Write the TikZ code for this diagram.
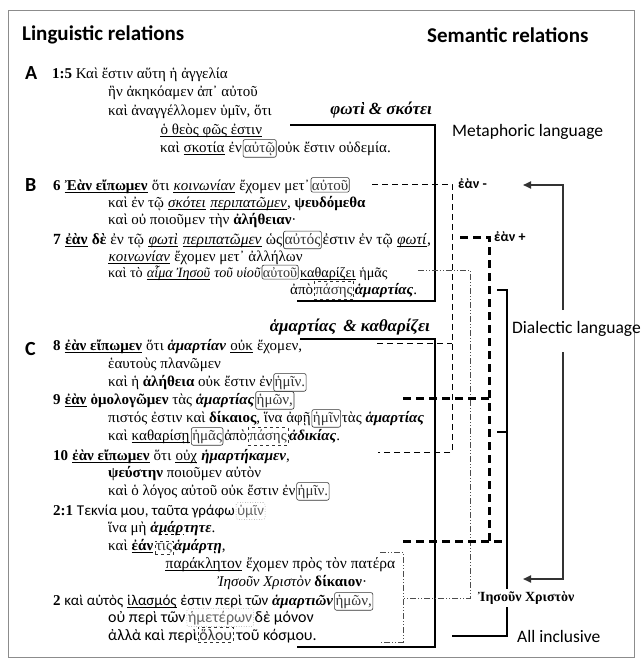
\documentclass[tikz,border=0pt]{standalone}
\usepackage{fontspec}
\setmainfont{Liberation Serif}
\newfontfamily\labfont{Carlito}
\newfontfamily\gsans{Carlito}
\usetikzlibrary{arrows.meta}
\newcommand\uln[1]{\tikz[baseline=(X.base)]{\node[anchor=base,inner sep=0pt](X){#1};\draw[solid,line width=0.55pt] ([yshift=-1.8pt]X.base west) -- ([yshift=-1.8pt]X.base east);}}
\newcommand\rbx[1]{\hspace{1pt}\tikz[baseline=(X.base)]\node[draw,solid,anchor=base,rounded corners=2pt,inner xsep=1pt,inner ysep=2pt,line width=0.6pt,black!80](X){#1};\hspace{1pt}}
\newcommand\dbx[1]{\hspace{1pt}\tikz[baseline=(X.base)]\node[draw,dashed,anchor=base,inner xsep=1pt,inner ysep=2pt,line width=0.5pt,black!80](X){#1};\hspace{1pt}}
\newcommand\dtbx[1]{\hspace{1pt}\tikz[baseline=(X.base)]\node[draw,dotted,anchor=base,rounded corners=2pt,inner xsep=1pt,inner ysep=2pt,line width=0.5pt,black!60](X){#1};\hspace{1pt}}
\newcommand\dul[1]{\tikz[baseline=(X.base)]{\node[anchor=base,inner sep=0pt](X){#1};\draw[dashed,line width=0.5pt] ([yshift=-2pt]X.base west) -- ([yshift=-2pt]X.base east);}}
\begin{document}
\begin{tikzpicture}[x=1pt,y=-1pt,
 gl/.style={anchor=base west,inner sep=0pt,font=\fontsize{15}{17}\selectfont},
 gs/.style={anchor=base west,inner sep=0pt,font=\gsans\fontsize{16}{17}\selectfont},
 title/.style={anchor=west,inner sep=0pt,font=\labfont\bfseries\fontsize{21}{24}\selectfont},
 sec/.style={anchor=west,inner sep=0pt,font=\labfont\bfseries\fontsize{20}{24}\selectfont},
 lab/.style={anchor=west,inner sep=0pt,font=\labfont\fontsize{17.5}{20}\selectfont},
 theme/.style={anchor=base east,inner sep=0pt,font=\bfseries\itshape\fontsize{17}{19}\selectfont},
 eanlab/.style={anchor=west,inner sep=0pt,font=\labfont\bfseries\fontsize{14}{15}\selectfont},
 thickbox/.style={line width=2.6pt},
 thindash/.style={line width=0.8pt,dash pattern=on 6pt off 4pt},
 thickdash/.style={line width=3pt,dash pattern=on 8pt off 5pt},
 dashdot/.style={line width=0.7pt,black!70,dash pattern=on 6pt off 2pt on 1pt off 2pt on 1pt off 2pt},
 bracket/.style={line width=2.2pt},
 arr/.style={line width=1.8pt,black!80,-{Triangle[length=8pt,width=7pt]}}
]
\useasboundingbox (0,0) rectangle (641,659);
\draw[black!45,line width=0.8pt] (8,10) rectangle (634,657);

% titles
\node[title] (lt) at (22,35) {Linguistic relations};
\node[title] (st) at (427,35) {Semantic relations};
\node[sec] (sa) at (25,73) {A};
\node[sec] (sb) at (25,185) {B};
\node[sec] (sc) at (25,349) {C};

% A
\node[gl] (a1) at (52,78) {\textbf{1:5} Καὶ ἔστιν αὕτη ἡ ἀγγελία};
\node[gl] (a2) at (108,96) {ἣν ἀκηκόαμεν ἀπ᾽ αὐτοῦ};
\node[gl] (a3) at (108,115) {καὶ ἀναγγέλλομεν ὑμῖν, ὅτι};
\node[gl] (a4) at (160,134) {\uln{ὁ θεὸς φῶς ἐστιν}};
\node[gl] (a5) at (160,152) {καὶ \uln{σκοτία} ἐν\rbx{αὐτῷ}οὐκ ἔστιν οὐδεμία.};

% B
\node[gl] (b1) at (53,190) {\textbf{6} \uln{\textbf{Ἐὰν εἴπωμεν}} ὅτι \uln{\textit{κοινωνίαν}} ἔχομεν μετ᾽\rbx{αὐτοῦ}};
\node[gl] (b2) at (108,207) {καὶ ἐν τῷ \uln{\textit{σκότει}} \uln{\textit{περιπατῶμεν}}, \textbf{ψευδόμεθα}};
\node[gl] (b3) at (108,224) {καὶ οὐ ποιοῦμεν τὴν \textbf{ἀλήθειαν}·};
\node[gl,font=\fontsize{15.5}{17}\selectfont] (b4) at (53,244) {\textbf{7} \uln{\textbf{ἐὰν}} \textbf{δὲ} ἐν τῷ \uln{\textit{φωτὶ}} \uln{\textit{περιπατῶμεν}} ὡς\rbx{αὐτός}ἐστιν ἐν τῷ \uln{\textit{φωτί}},};
\node[gl] (b5) at (108,261) {\uln{\textit{κοινωνίαν}} ἔχομεν μετ᾽ ἀλλήλων};
\node[gl,font=\fontsize{14.2}{17}\selectfont] (b6) at (108,277) {καὶ τὸ \uln{\textit{αἷμα Ἰησοῦ}} \textit{τοῦ υἱοῦ}\rbx{αὐτοῦ}\uln{καθαρίζει} ἡμᾶς};
\node[gl] (b7) at (290,294) {ἀπὸ\dbx{πάσης}\textbf{\textit{ἁμαρτίας}}.};

% C
\node[gl] (c1) at (53,350) {\textbf{8} \uln{\textbf{ἐὰν εἴπωμεν}} ὅτι \textbf{\textit{ἁμαρτίαν}} \uln{οὐκ} ἔχομεν,};
\node[gl] (c2) at (108,368) {ἑαυτοὺς πλανῶμεν};
\node[gl] (c3) at (108,386) {καὶ ἡ \textbf{ἀλήθεια} οὐκ ἔστιν ἐν\rbx{ἡμῖν.}};
\node[gl] (c4) at (53,404) {\textbf{9} \uln{\textbf{ἐὰν}} \textbf{ὁμολογῶμεν} τὰς \textbf{\textit{ἁμαρτίας}}\rbx{ἡμῶν,}};
\node[gl] (c5) at (108,422) {πιστός ἐστιν καὶ \textbf{δίκαιος}, ἵνα ἀφῇ\rbx{ἡμῖν}τὰς \textbf{\textit{ἁμαρτίας}}};
\node[gl] (c6) at (108,440) {καὶ \uln{καθαρίσῃ}\rbx{ἡμᾶς}ἀπὸ\dbx{πάσης}\textbf{\textit{ἀδικίας}}.};
\node[gl] (c7) at (53,460) {\textbf{10} \uln{\textbf{ἐὰν εἴπωμεν}} ὅτι \uln{οὐχ} \textbf{\textit{ἡμαρτήκαμεν}},};
\node[gl] (c8) at (108,477) {\textbf{ψεύστην} ποιοῦμεν αὐτὸν};
\node[gl] (c9) at (108,495) {καὶ ὁ λόγος αὐτοῦ οὐκ ἔστιν ἐν\rbx{ἡμῖν.}};
\node[gl] (c10) at (53,515) {\textbf{2:1} {\gsans Τεκνία μου, ταῦτα γράφω}\dtbx{\gsans ὑμῖν}};
\node[gl] (c11) at (108,532) {ἵνα μὴ \textbf{\textit{ἁ\dul{μάρ}τητε}}.};
\node[gl] (c12) at (108,550) {καὶ \uln{\textbf{ἐάν}}\dbx{τις}\textbf{\textit{ἁμάρτῃ}},};
\node[gl,font=\fontsize{15.5}{17}\selectfont] (c13) at (165,568) {\uln{παράκλητον} ἔχομεν πρὸς τὸν πατέρα};
\node[gl] (c14) at (217,586) {\textit{Ἰησοῦν Χριστὸν} \textbf{δίκαιον}·};
\node[gl] (c15) at (53,605) {\textbf{2} {\gsans καὶ αὐτὸς \uln{ἱλασμός} ἐστιν περὶ τῶν} \textbf{\textit{ἁμαρτιῶν}}\rbx{ἡμῶν,}};
\node[gs] (c16) at (108,622) {οὐ περὶ τῶν\dtbx{ἡμετέρων}δὲ μόνον};
\node[gs] (c17) at (108,640) {ἀλλὰ καὶ περὶ\dbx{ὅλου}\hspace{2pt}τοῦ κόσμου.};

% connectors / brackets
\draw[thickbox] (290,125) -- (435,125) -- (435,301) -- (297,301);
\draw[thickbox] (300,339) -- (435,339) -- (435,647) -- (297,647);
\draw[thindash] (372,184) -- (452,184) -- (452,452) -- (378,452);
\draw[thindash] (377,343) -- (452,343);
\draw[dashdot] (418,270) -- (470,270) -- (470,598) -- (403,598);
\draw[dashdot] (380,552) -- (403,552) -- (403,642) -- (380,642);
\draw[thickdash] (460,237) -- (489,237) -- (489,541);
\draw[thickdash] (403,398) -- (489,398);
\draw[thickdash] (403,541) -- (507,541);
\draw[bracket] (497,290) -- (507,290) -- (507,636) -- (452,636);
\draw[bracket] (497,432) -- (507,432);
\draw[arr] (563,310) -- (563,185) -- (523,185);
\draw[arr] (563,352) -- (563,579) -- (523,579);

% semantic labels
\node[theme] (t1) at (432,114) {φωτὶ \& σκότει};
\node[theme] (t2) at (430,331) {ἁμαρτίας\hspace{3pt} \& καθαρίζει};
\node[lab] (ml) at (452,132) {Metaphoric language};
\node[lab] (dl) at (512,329) {Dialectic language};
\node[lab] (ai) at (517,636) {All inclusive};
\node[eanlab] (em) at (458,184) {ἐὰν -};
\node[eanlab] (ep) at (494,237) {ἐὰν +};
\node[anchor=west,fill=white,inner xsep=1pt,inner ysep=3pt,font=\bfseries\fontsize{14}{15}\selectfont] (ic) at (477,598) {Ἰησοῦν Χριστὸν};
\end{tikzpicture}
\end{document}
